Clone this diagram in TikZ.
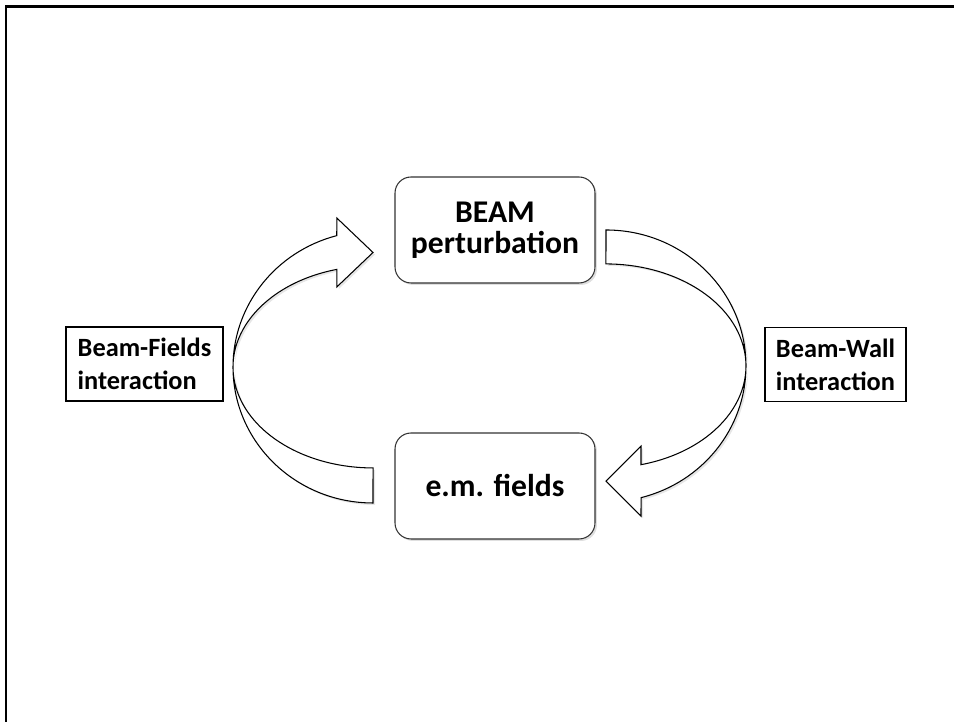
\documentclass[tikz,border=0pt]{standalone}
\usepackage{fontspec}
\setmainfont{Carlito}
\usetikzlibrary{positioning,shadows}
\tikzset{
  stagebox/.style={draw=black!80,fill=white,rounded corners=0.32cm,minimum width=4cm,minimum height=2.12cm,align=center,line width=0.6pt,font=\fontsize{18pt}{17.5pt}\selectfont\bfseries,drop shadow={opacity=0.25,shadow xshift=0.4mm,shadow yshift=-0.4mm}},
  tagbox/.style={draw,fill=white,minimum height=1.48cm,align=left,line width=0.6pt,inner sep=0.1cm,font=\fontsize{15pt}{18.8pt}\selectfont\bfseries},
  ribbon/.style={draw,fill=white,line width=0.6pt,drop shadow={opacity=0.2,shadow xshift=0.4mm,shadow yshift=-0.4mm}},
}
\begin{document}
\begin{tikzpicture}[x=0.02cm,y=0.02cm]
      \useasboundingbox (0,0) rectangle (954,722);
      \draw[line width=1.7pt] (6,0) -- (6,715) -- (954,715);
      \node[stagebox] (beam) at (495,492) {BEAM\\perturbation};
      \node[stagebox,below=2.98cm of beam] (fields) {e.m. fields};
      \node[tagbox,minimum width=3.14cm] (bfield) at (144.5,358) {Beam-Fields\\interaction};
      \node[tagbox,minimum width=2.82cm] (bwall) at (835.5,357.5) {Beam-Wall\\interaction};
      \draw[ribbon] (373,219) arc[start angle=270,end angle=105,x radius=140,y radius=136]
        -- (336.8,504) -- (373,469.5) -- (336.8,435) -- (336.8,452.6)
        arc[start angle=105,end angle=270,x radius=140,y radius=101] -- cycle;
      \draw[ribbon] (606,492) arc[start angle=90,end angle=-75.5,x radius=140,y radius=136]
        -- (641,205.8) -- (606,240.8) -- (641,275.8) -- (641,257.3)
        arc[start angle=-75.5,end angle=90,x radius=140,y radius=102] -- cycle;
    \end{tikzpicture}
\end{document}
